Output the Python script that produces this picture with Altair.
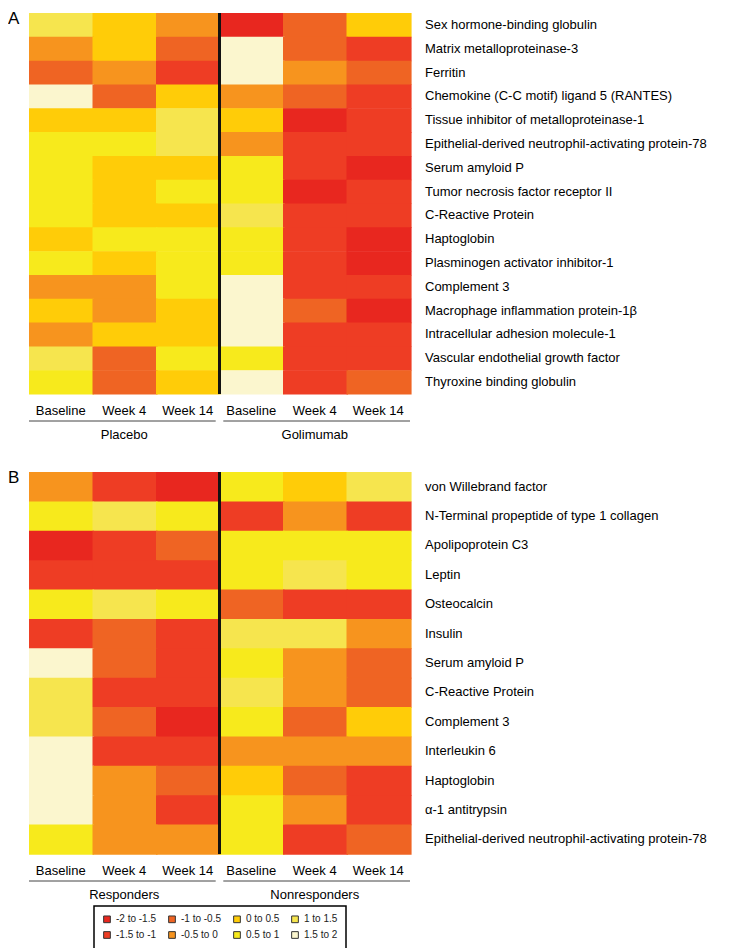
import altair as alt
import pandas as pd

FONT = "Liberation Sans"

# ---- colour bins ----
bins = ["-2 to -1.5", "-1.5 to -1", "-1 to -0.5", "-0.5 to 0",
        "0 to 0.5", "0.5 to 1", "1 to 1.5", "1.5 to 2"]
bin_colors = ["#E8271F", "#EE3D24", "#EF6423", "#F7941E",
              "#FFCC08", "#F7EA1C", "#F6E54E", "#FBF6CE"]

times = ["Baseline", "Week 4", "Week 14"]

# ---- Panel A ----
groups_a = ["Placebo", "Golimumab"]
markers_a = [
    "Sex hormone-binding globulin",
    "Matrix metalloproteinase-3",
    "Ferritin",
    "Chemokine (C-C motif) ligand 5 (RANTES)",
    "Tissue inhibitor of metalloproteinase-1",
    "Epithelial-derived neutrophil-activating protein-78",
    "Serum amyloid P",
    "Tumor necrosis factor receptor II",
    "C-Reactive Protein",
    "Haptoglobin",
    "Plasminogen activator inhibitor-1",
    "Complement 3",
    "Macrophage inflammation protein-1\u03b2",
    "Intracellular adhesion molecule-1",
    "Vascular endothelial growth factor",
    "Thyroxine binding globulin",
]
# bin codes 1..8 (index into bins, 1-based)
placebo_baseline = [7, 4, 3, 8, 5, 6, 6, 6, 6, 5, 6, 4, 5, 4, 7, 6]
placebo_week4    = [5, 5, 4, 3, 5, 6, 5, 5, 5, 6, 5, 4, 4, 5, 3, 3]
placebo_week14   = [4, 3, 2, 5, 7, 7, 5, 6, 5, 6, 6, 6, 5, 5, 6, 5]
golim_baseline   = [1, 8, 8, 4, 5, 4, 6, 6, 7, 6, 6, 8, 8, 8, 6, 8]
golim_week4      = [3, 3, 4, 3, 1, 2, 2, 1, 2, 2, 2, 2, 3, 2, 2, 2]
golim_week14     = [5, 2, 3, 2, 2, 2, 1, 2, 2, 1, 1, 2, 1, 2, 2, 3]

# ---- Panel B ----
groups_b = ["Responders", "Nonresponders"]
markers_b = [
    "von Willebrand factor",
    "N-Terminal propeptide of type 1 collagen",
    "Apolipoprotein C3",
    "Leptin",
    "Osteocalcin",
    "Insulin",
    "Serum amyloid P",
    "C-Reactive Protein",
    "Complement 3",
    "Interleukin 6",
    "Haptoglobin",
    "\u03b1-1 antitrypsin",
    "Epithelial-derived neutrophil-activating protein-78",
]
resp_baseline    = [4, 6, 1, 2, 6, 2, 8, 7, 7, 8, 8, 8, 6]
resp_week4       = [2, 7, 2, 2, 7, 3, 3, 2, 3, 2, 4, 4, 4]
resp_week14      = [1, 6, 3, 2, 6, 2, 2, 2, 1, 2, 3, 2, 4]
nonresp_baseline = [6, 2, 6, 6, 3, 7, 6, 7, 6, 4, 5, 6, 6]
nonresp_week4    = [5, 4, 6, 7, 2, 7, 4, 4, 3, 4, 3, 4, 2]
nonresp_week14   = [7, 2, 6, 6, 2, 4, 3, 3, 5, 4, 2, 2, 3]

NCOL = len(times) * 2
XSCALE = alt.Scale(domain=[0, NCOL], nice=False, zero=False)
COLSCALE = alt.Scale(domain=bins, range=bin_colors)
EPS = 0.025  # tiny overlap so neighbouring cells leave no anti-aliasing seams


def panel_df(markers, columns):
    recs = []
    for i, m in enumerate(markers):
        for c, vals in enumerate(columns):
            recs.append({"marker": m, "row": i, "row_end": i + 1 + EPS,
                         "col": c, "col_end": c + 1 + EPS,
                         "bin": bins[vals[i] - 1]})
    return pd.DataFrame(recs)


def panel(markers, columns, groups, letter, width, height, legend):
    df = panel_df(markers, columns)
    n = len(times)
    yscale = alt.Scale(domain=[0, len(markers)], nice=False, zero=False,
                       reverse=True)
    heat = alt.Chart(df).mark_rect().encode(
        x=alt.X("col:Q", scale=XSCALE, axis=None),
        x2="col_end:Q",
        y=alt.Y("row:Q", scale=yscale, axis=None),
        y2="row_end:Q",
        color=alt.Color("bin:N", scale=COLSCALE, legend=legend),
    )
    mdf = pd.DataFrame({"marker": markers,
                        "mid": [i + 0.5 for i in range(len(markers))]})
    mlabels = alt.Chart(mdf).mark_text(fontSize=13, font=FONT, color="black",
                                       align="left", baseline="middle").encode(
        x=alt.value(width + 15),
        y=alt.Y("mid:Q", scale=yscale, axis=None), text="marker:N")

    divider = alt.Chart(pd.DataFrame({"x": [n]})).mark_rule(
        color="#111111", strokeWidth=3
    ).encode(x=alt.X("x:Q", scale=XSCALE, axis=None))

    tdf = pd.DataFrame({
        "label": times * len(groups),
        "center": [k + 0.5 for k in range(NCOL)],
    })
    tlabels = alt.Chart(tdf).mark_text(fontSize=13, font=FONT, color="black",
                                       baseline="middle").encode(
        x=alt.X("center:Q", scale=XSCALE, axis=None),
        y=alt.value(height + 17), text="label:N")

    gap = 0.06
    gdf = pd.DataFrame({
        "group": groups,
        "start": [g * n + (gap if g > 0 else 0) for g in range(len(groups))],
        "end": [(g + 1) * n - (gap if g < len(groups) - 1 else 0) for g in range(len(groups))],
        "center": [g * n + n / 2 for g in range(len(groups))],
    })
    underline = alt.Chart(gdf).mark_rule(color="#444444", strokeWidth=1).encode(
        x=alt.X("start:Q", scale=XSCALE, axis=None), x2="end:Q",
        y=alt.value(height + 27))
    glabel = alt.Chart(gdf).mark_text(fontSize=13, font=FONT, color="black",
                                      baseline="middle").encode(
        x=alt.X("center:Q", scale=XSCALE, axis=None),
        y=alt.value(height + 41), text="group:N")
    tag = alt.Chart(pd.DataFrame({"t": [letter]})).mark_text(
        align="left", baseline="top", fontSize=17, font=FONT, color="black"
    ).encode(x=alt.value(-21), y=alt.value(-2), text="t:N")

    return alt.layer(heat, mlabels, divider, tlabels, underline, glabel, tag).properties(
        width=width, height=height)


legend_b = alt.Legend(orient="none", legendX=65, legendY=434, title=None,
                      columns=4, symbolType="square", symbolSize=45,
                      symbolStrokeColor="#333333", symbolStrokeWidth=1,
                      labelFontSize=10, labelFont=FONT, labelColor="#222222",
                      labelOffset=4, columnPadding=9, rowPadding=4,
                      padding=8, strokeColor="black", fillColor="white")

chart_a = panel(markers_a,
                [placebo_baseline, placebo_week4, placebo_week14,
                 golim_baseline, golim_week4, golim_week14],
                groups_a, "A", 381, 381, None)
chart_b = panel(markers_b,
                [resp_baseline, resp_week4, resp_week14,
                 nonresp_baseline, nonresp_week4, nonresp_week14],
                groups_b, "B", 381, 382, legend_b)

chart = alt.vconcat(chart_a, chart_b, spacing=27).resolve_scale(
    color="independent"
).properties(
    padding={"left": 0, "top": 2, "right": 0, "bottom": 0}
).configure_view(stroke=None).configure_legend(strokeWidth=1.5)

chart.save("out.html", embed_options={"renderer": "svg", "actions": False})
